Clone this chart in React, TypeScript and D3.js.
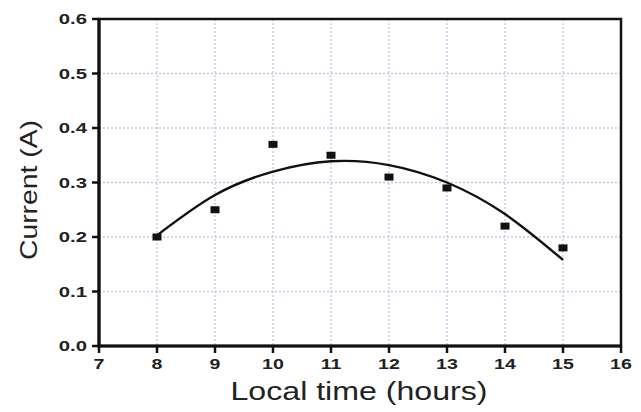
import * as d3 from "d3";
import { useEffect, useRef } from "react";

const WIDTH = 641;
const HEIGHT = 412;
const MARGIN = { top: 19, right: 20, bottom: 66, left: 99 };
const INNER_W = WIDTH - MARGIN.left - MARGIN.right;
const INNER_H = HEIGHT - MARGIN.top - MARGIN.bottom;

// measured points (local hour -> current in A)
const hours = [8, 9, 10, 11, 12, 13, 14, 15];
const current = [0.2, 0.25, 0.37, 0.35, 0.31, 0.29, 0.22, 0.18];
// fitted curve, one value per hour
const fitCurrent = [0.203, 0.277, 0.32, 0.339, 0.332, 0.3, 0.242, 0.158];

const xTicks = [7, 8, 9, 10, 11, 12, 13, 14, 15, 16];
const yTicks = [0, 0.1, 0.2, 0.3, 0.4, 0.5, 0.6];

const FONT = "Arial, 'Liberation Sans', sans-serif";
const GRID = "#c6c6e2";

export default function App() {
  const svgRef = useRef<SVGSVGElement>(null);

  useEffect(() => {
    const svg = d3.select(svgRef.current);
    svg.selectAll("*").remove();

    const x = d3.scaleLinear().domain([7, 16]).range([0, INNER_W]);
    const y = d3.scaleLinear().domain([0, 0.6]).range([INNER_H, 0]);

    svg.append("rect").attr("width", WIDTH).attr("height", HEIGHT).attr("fill", "#fff");
    const g = svg.append("g").attr("transform", `translate(${MARGIN.left},${MARGIN.top})`);

    // dotted grid
    g.append("g")
      .selectAll("line")
      .data(yTicks.filter((t) => t > 0 && t < 0.6))
      .join("line")
      .attr("x1", 0)
      .attr("x2", INNER_W)
      .attr("y1", (d) => y(d))
      .attr("y2", (d) => y(d))
      .attr("stroke", GRID)
      .attr("stroke-width", 1.3)
      .attr("stroke-dasharray", "2,2");
    g.append("g")
      .selectAll("line")
      .data(xTicks.filter((t) => t > 7 && t < 16))
      .join("line")
      .attr("x1", (d) => x(d))
      .attr("x2", (d) => x(d))
      .attr("y1", 0)
      .attr("y2", INNER_H)
      .attr("stroke", GRID)
      .attr("stroke-width", 1.3)
      .attr("stroke-dasharray", "2,2");

    // frame
    g.append("rect")
      .attr("width", INNER_W)
      .attr("height", INNER_H)
      .attr("fill", "none")
      .attr("stroke", "#111")
      .attr("stroke-width", 2.5);
    g.append("line")
      .attr("x1", 0)
      .attr("x2", 0)
      .attr("y1", -1)
      .attr("y2", INNER_H + 1.5)
      .attr("stroke", "#111")
      .attr("stroke-width", 3.2);
    g.append("line")
      .attr("x1", -1.5)
      .attr("x2", INNER_W + 1)
      .attr("y1", INNER_H)
      .attr("y2", INNER_H)
      .attr("stroke", "#111")
      .attr("stroke-width", 3.2);

    // ticks
    g.append("g")
      .selectAll("line")
      .data(yTicks)
      .join("line")
      .attr("x1", -7)
      .attr("x2", 0)
      .attr("y1", (d) => y(d))
      .attr("y2", (d) => y(d))
      .attr("stroke", "#111")
      .attr("stroke-width", 2.5);
    g.append("g")
      .selectAll("line")
      .data(xTicks)
      .join("line")
      .attr("x1", (d) => x(d))
      .attr("x2", (d) => x(d))
      .attr("y1", INNER_H)
      .attr("y2", INNER_H + 7)
      .attr("stroke", "#111")
      .attr("stroke-width", 2.5);

    // tick labels (bold, horizontally stretched like the source)
    g.append("g")
      .selectAll("text")
      .data(yTicks)
      .join("text")
      .attr("transform", (d) => `translate(-12,${y(d)}) scale(1.45,1)`)
      .attr("dy", "0.36em")
      .attr("text-anchor", "end")
      .attr("font-family", FONT)
      .attr("font-weight", "bold")
      .attr("font-size", 14)
      .attr("fill", "#222")
      .text((d) => d.toFixed(1));
    g.append("g")
      .selectAll("text")
      .data(xTicks)
      .join("text")
      .attr("transform", (d) => `translate(${x(d)},${INNER_H + 23}) scale(1.4,1)`)
      .attr("text-anchor", "middle")
      .attr("font-family", FONT)
      .attr("font-weight", "bold")
      .attr("font-size", 14)
      .attr("fill", "#222")
      .text((d) => d);

    // fitted curve
    const line = d3
      .line<number>()
      .x((_, i) => x(hours[i]))
      .y((v) => y(v))
      .curve(d3.curveNatural);
    g.append("path")
      .attr("d", line(fitCurrent) ?? "")
      .attr("fill", "none")
      .attr("stroke", "#111")
      .attr("stroke-width", 2.4);

    // square markers
    g.append("g")
      .selectAll("rect")
      .data(hours)
      .join("rect")
      .attr("x", (d) => x(d) - 4.5)
      .attr("y", (_, i) => y(current[i]) - 3.5)
      .attr("width", 9)
      .attr("height", 7)
      .attr("fill", "#111");

    // axis titles
    svg.append("text")
      .attr("x", 359)
      .attr("y", 400)
      .attr("text-anchor", "middle")
      .attr("font-family", FONT)
      .attr("font-size", 25)
      .attr("textLength", 257)
      .attr("lengthAdjust", "spacingAndGlyphs")
      .attr("fill", "#222")
      .text("Local time (hours)");
    svg.append("text")
      .attr("transform", "translate(37,190) rotate(-90)")
      .attr("text-anchor", "middle")
      .attr("font-family", FONT)
      .attr("font-size", 24)
      .attr("textLength", 140)
      .attr("lengthAdjust", "spacingAndGlyphs")
      .attr("fill", "#222")
      .text("Current (A)");
  }, []);

  return (
    <svg
      ref={svgRef}
      width={WIDTH}
      height={HEIGHT}
      viewBox={`0 0 ${WIDTH} ${HEIGHT}`}
      style={{ position: "absolute", left: 0, top: 0, display: "block" }}
    />
  );
}
